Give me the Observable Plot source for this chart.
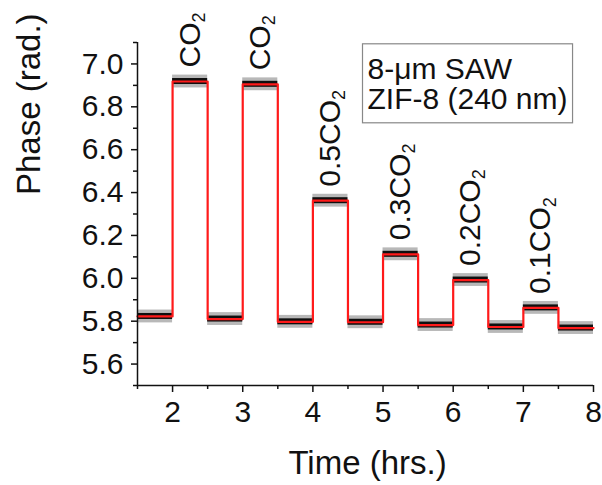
<!DOCTYPE html>
<html>
<head>
<meta charset="utf-8">
<script src="https://cdn.jsdelivr.net/npm/d3@7"></script>
<script src="https://cdn.jsdelivr.net/npm/@observablehq/plot@0.6"></script>
<style>
  html, body { margin: 0; padding: 0; background: #fff; }
  svg { display: block; }
</style>
</head>
<body>
<script>
// Square-wave segments (hours) and their mean phase level (rad.)
const segStart = [1.5, 2.0, 2.5, 3.0, 3.5, 4.0, 4.5, 5.0, 5.5, 6.0, 6.5, 7.0, 7.5];
const segEnd   = [2.0, 2.5, 3.0, 3.5, 4.0, 4.5, 5.0, 5.5, 6.0, 6.5, 7.0, 7.5, 8.0];
const segLevel = [5.822, 6.918, 5.810, 6.905, 5.797, 6.362, 5.795, 6.112, 5.782, 5.992, 5.773, 5.862, 5.768];
// Noise envelope around the mean (rad.)
const noiseCore  = 0.014;
const noiseSpike = 0.03;

// Gas pulses and their labels
const pulseTime  = [2.25, 3.25, 4.25, 5.25, 6.25, 7.25];
const pulseLabel = ["CO2", "CO2", "0.5CO2", "0.3CO2", "0.2CO2", "0.1CO2"];
const pulseLevel = [6.918, 6.905, 6.362, 6.112, 5.992, 5.862];

// Axis ticks
const xMajor = [2, 3, 4, 5, 6, 7, 8];
const xMinor = [1.5, 2.5, 3.5, 4.5, 5.5, 6.5, 7.5];
const yMajor = [5.6, 5.8, 6.0, 6.2, 6.4, 6.6, 6.8, 7.0];
const yMinor = [5.5, 5.7, 5.9, 6.1, 6.3, 6.5, 6.7, 6.9, 7.1];

const legendLines = ["8-\u03BCm SAW", "ZIF-8 (240 nm)"];
const xTitle = "Time (hrs.)";
const yTitle = "Phase (rad.)";

const segments = segStart.map((s, i) => ({start: s, end: segEnd[i], level: segLevel[i]}));
const trace = segments.flatMap(d => [{t: d.start, v: d.level}, {t: d.end, v: d.level}]);
const pulses = pulseTime.map((t, i) => ({t, label: pulseLabel[i], level: pulseLevel[i]}));

const chart = Plot.plot({
  width: 602,
  height: 485,
  marginLeft: 137,
  marginRight: 9,
  marginTop: 42,
  marginBottom: 100,
  x: {domain: [1.5, 8]},
  y: {domain: [5.5, 7.1]},
  style: {fontFamily: "'Liberation Sans', Arial, sans-serif", background: "#fff", color: "#111"},
  marks: [
    // raw noisy trace envelope
    Plot.rect(segments, {x1: "start", x2: "end", y1: d => d.level - noiseSpike, y2: d => d.level + noiseSpike, fill: "#000", fillOpacity: 0.28}),
    Plot.rect(segments, {x1: "start", x2: "end", y1: d => d.level - noiseCore, y2: d => d.level + noiseCore, fill: "#000", fillOpacity: 0.92}),
    // smoothed trace
    Plot.line(trace, {x: "t", y: "v", stroke: "#ff1a1a", strokeWidth: 2.2}),
    // axes
    Plot.ruleY([5.5], {stroke: "#111", strokeWidth: 1.5}),
    Plot.ruleX([1.5], {stroke: "#111", strokeWidth: 1.5}),
    Plot.axisX({ticks: xMajor, tickSize: 7, tickPadding: 8, fontSize: 30, label: null, tickFormat: d3.format("d"), strokeWidth: 1.5}),
    Plot.axisX({ticks: xMinor, tickSize: 4, text: null, label: null, strokeWidth: 1.5}),
    Plot.axisY({ticks: yMajor, tickSize: 6, tickPadding: 8, fontSize: 30, label: null, tickFormat: d3.format(".1f"), strokeWidth: 1.5}),
    Plot.axisY({ticks: yMinor, tickSize: 4, text: null, label: null, strokeWidth: 1.5}),
    // pulse labels
    Plot.text(pulses, {x: "t", y: "level", text: "label", rotate: -90, textAnchor: "start", dy: -14, fontSize: 30, fill: "#111"}),
    // axis titles
    Plot.text([yTitle], {frameAnchor: "left", rotate: -90, dx: -108, dy: -19, fontSize: 33, fill: "#111"}),
    Plot.text([xTitle], {frameAnchor: "bottom", lineAnchor: "top", dx: 2, dy: 65, fontSize: 33, fill: "#111"}),
    // legend text
    Plot.text([legendLines.join("\n")], {frameAnchor: "top-left", textAnchor: "start", lineAnchor: "top", dx: 230, dy: 15, fontSize: 30, lineHeight: 1, fill: "#111"})
  ]
});

document.body.append(chart);

// Subscripts for CO2 labels
d3.select(chart).selectAll("text").each(function () {
  const t = this.textContent;
  const m = /^(.*CO)2$/.exec(t);
  if (m && this.children.length === 0) {
    this.textContent = "";
    d3.select(this).append("tspan").text(m[1]);
    d3.select(this).append("tspan").attr("dy", "0.28em").attr("font-size", "18px").text("2");
  }
});

// Legend box around the legend text
d3.select(chart).selectAll("text").each(function () {
  if (this.textContent.includes("SAW")) {
    const b = this.getBBox();
    const ctm = this.getCTM();
    const x0 = b.x + ctm.e, y0 = b.y + ctm.f;
    d3.select(chart).append("rect")
      .attr("x", x0 - 5).attr("y", y0 - 8)
      .attr("width", b.width + 10).attr("height", b.height + 16)
      .attr("fill", "none").attr("stroke", "#888").attr("stroke-width", 1.2);
  }
});
</script>
</body>
</html>
